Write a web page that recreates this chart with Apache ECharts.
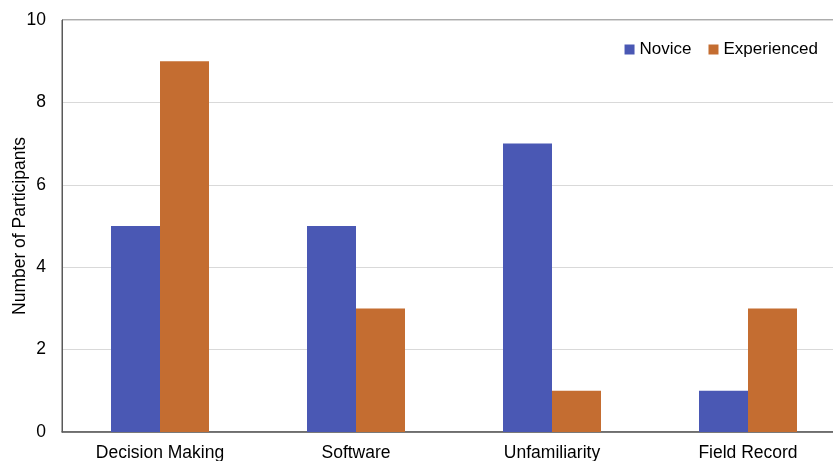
<!DOCTYPE html>
<html>
<head>
<meta charset="utf-8">
<script src="https://cdn.jsdelivr.net/npm/echarts@6/dist/echarts.min.js"></script>
<style>
  html, body { margin: 0; padding: 0; background: #fff; }
  #chart { width: 833px; height: 461px; }
</style>
</head>
<body>
<div id="chart"></div>
<script>
// Categories and participant counts per group
const categories = ['Decision Making', 'Software', 'Unfamiliarity', 'Field Record'];
const noviceCounts = [5, 5, 7, 1];
const experiencedCounts = [9, 3, 1, 3];
const yTicks = { min: 0, max: 10, interval: 2 };

const chart = echarts.init(document.getElementById('chart'));
const font = 'Liberation Sans, Arial, sans-serif';

chart.setOption({
  animation: false,
  backgroundColor: '#ffffff',
  grid: {
    left: 62, top: 20, width: 784, height: 412,
    containLabel: false,
    outerBoundsMode: 'none',
    show: true, borderColor: '#595959', borderWidth: 1,
    backgroundColor: 'transparent'
  },
  legend: {
    top: 36, right: 10,
    itemWidth: 10, itemHeight: 10, itemGap: 17,
    icon: 'rect',
    textStyle: { fontFamily: font, fontSize: 17, color: '#000' },
    data: ['Novice', 'Experienced']
  },
  xAxis: {
    type: 'category',
    data: categories,
    axisLine: { show: true, lineStyle: { color: '#595959', width: 1.5 } },
    axisTick: { show: false },
    axisLabel: { fontFamily: font, fontSize: 17.5, color: '#000', margin: 12 }
  },
  yAxis: {
    type: 'value',
    min: yTicks.min, max: yTicks.max, interval: yTicks.interval,
    name: 'Number of Participants',
    nameLocation: 'middle',
    nameGap: 33,
    nameMoveOverlap: false,
    nameTextStyle: { fontFamily: font, fontSize: 17.5, color: '#000' },
    axisLine: { show: true, lineStyle: { color: '#595959' } },
    axisTick: { show: false },
    axisLabel: { fontFamily: font, fontSize: 17.5, color: '#000', margin: 16 },
    splitLine: { lineStyle: { color: '#d9d9d9', width: 1 } }
  },
  series: [
    {
      name: 'Novice', type: 'bar', data: noviceCounts,
      barWidth: 49, barGap: '0%',
      itemStyle: { color: '#4A58B4' }
    },
    {
      name: 'Experienced', type: 'bar', data: experiencedCounts,
      barWidth: 49,
      itemStyle: { color: '#C46D31' }
    }
  ]
});
</script>
</body>
</html>
